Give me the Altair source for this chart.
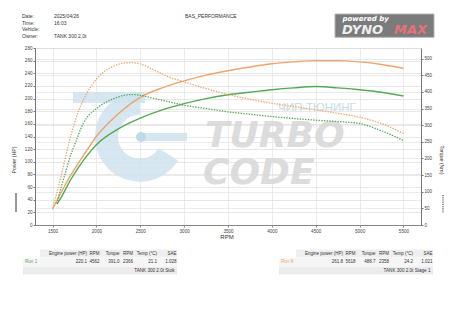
import altair as alt
import pandas as pd

# ---------------- data ----------------
run1_power_rpm = [1550, 1600, 1700, 1800, 1900, 2000, 2250, 2500, 2750, 3000, 3250, 3500,
                  3750, 4000, 4250, 4500, 4750, 5000, 5250, 5500]
run1_power_hp = [33, 44, 70, 92, 111, 127, 152, 169, 182, 192, 200, 206,
                 210, 214, 217, 219, 217, 214, 210, 204]

run8_power_rpm = [1500, 1600, 1700, 1800, 1900, 2000, 2250, 2500, 2750, 3000, 3250, 3500,
                  3750, 4000, 4250, 4500, 4750, 5000, 5250, 5500]
run8_power_hp = [25, 52, 77, 99, 120, 140, 176, 202, 217, 228, 237, 244,
                 250, 255, 258, 260, 260, 258, 254, 248]

run1_torque_rpm = [1550, 1600, 1650, 1700, 1750, 1850, 2000, 2100, 2200, 2300, 2400, 2500,
                   2600, 2800, 3000, 3250, 3500, 3750, 4000, 4250, 4500, 4750, 5000, 5250, 5500]
run1_torque_nm = [64, 115, 160, 205, 240, 305, 350, 368, 380, 389, 392, 390,
                  384, 372, 360, 350, 340, 333, 326, 320, 315, 311, 305, 283, 254]

run8_torque_rpm = [1500, 1600, 1700, 1800, 1900, 2000, 2100, 2200, 2300, 2400, 2500, 2600,
                   2700, 2800, 3000, 3250, 3500, 3750, 4000, 4250, 4500, 4750, 5000, 5250, 5500]
run8_torque_nm = [49, 150, 260, 345, 400, 438, 463, 478, 486, 488, 484, 473,
                  460, 448, 430, 410, 392, 378, 366, 356, 346, 336, 324, 305, 275]

run_names = ["Run 1", "Run 8"]
run_colors = ["#55a855", "#eea56c"]

rpm_ticks = [1500, 2000, 2500, 3000, 3500, 4000, 4500, 5000, 5500]
hp_ticks = list(range(0, 281, 20))
nm_ticks = list(range(0, 501, 50))

header_labels = ["Date:", "Time:", "Vehicle:", "Owner:"]
header_values = ["2025/04/26", "16:03", "", "TANK 300 2.0t"]
report_title = "BAS_PERFORMANCE"

table_headers = ["Engine power (HP)", "RPM", "Torque", "RPM", "Temp (°C)", "SAE"]
run1_stats = ["220.1", "4562", "391.0", "2366", "21.1", "1.028"]
run8_stats = ["261.8", "5618", "488.7", "2358", "24.2", "1.021"]
run1_note = "TANK 300 2.0t Stok"
run8_note = "TANK 300 2.0t Stage 1"

# ---------------- frames ----------------
power_df = pd.DataFrame({
    "rpm": run1_power_rpm + run8_power_rpm,
    "hp": run1_power_hp + run8_power_hp,
    "run": ["Run 1"] * len(run1_power_rpm) + ["Run 8"] * len(run8_power_rpm),
})
torque_df = pd.DataFrame({
    "rpm": run1_torque_rpm + run8_torque_rpm,
    "nm": run1_torque_nm + run8_torque_nm,
    "run": ["Run 1"] * len(run1_torque_rpm) + ["Run 8"] * len(run8_torque_rpm),
})

W, H = 386, 177
FONT = "Liberation Sans"

xenc = alt.X("rpm:Q", scale=alt.Scale(domain=[1300, 5700], nice=False, zero=False),
             axis=alt.Axis(values=rpm_ticks, format="d", title=None, grid=True,
                           gridColor="#e4e4e4", gridWidth=0.7, labelFontSize=4.6,
                           labelColor="#444", tickSize=2, tickColor="#888",
                           domainColor="#888", labelPadding=1.5))
cenc = alt.Color("run:N", scale=alt.Scale(domain=run_names, range=run_colors), legend=None)

power = alt.Chart(power_df).mark_line(strokeWidth=1.4, interpolate="monotone").encode(
    x=xenc,
    y=alt.Y("hp:Q", scale=alt.Scale(domain=[0, 280], nice=False),
            axis=alt.Axis(orient="left", values=hp_ticks, title=None, grid=True,
                          gridColor="#dedede", gridWidth=0.7, labelFontSize=4.6,
                          labelColor="#444", tickSize=2, tickColor="#777",
                          domainColor="#777", labelPadding=1)),
    color=cenc,
)
torque = alt.Chart(torque_df).mark_line(strokeWidth=1.3, strokeDash=[1.4, 1.3],
                                        interpolate="monotone").encode(
    x=alt.X("rpm:Q"),
    y=alt.Y("nm:Q", scale=alt.Scale(domain=[0, 532], nice=False),
            axis=alt.Axis(orient="right", values=nm_ticks, title=None, grid=True,
                          gridColor="#e2e2e2", gridWidth=0.7, labelFontSize=4.6,
                          labelColor="#444", tickSize=2, tickColor="#777",
                          domainColor="#777", labelPadding=1)),
    color=cenc,
)


def one():
    return pd.DataFrame({"t": ["x"]})


def txt(s, px, py, size=5, color="#333", align="left", baseline="middle",
        angle=0, font=FONT, weight="normal", style="normal", opacity=1.0):
    return alt.Chart(pd.DataFrame({"t": [s]})).mark_text(
        align=align, baseline=baseline, fontSize=size, color=color, angle=angle,
        font=font, fontWeight=weight, fontStyle=style, opacity=opacity,
    ).encode(x=alt.value(px), y=alt.value(py), text="t:N")


def rect(x1, x2, y1, y2, color, opacity=1.0, stroke=None):
    kw = dict(color=color, opacity=opacity)
    if stroke:
        kw["stroke"] = stroke
        kw["strokeWidth"] = 1
    return alt.Chart(one()).mark_rect(**kw).encode(
        x=alt.value(x1), x2=alt.value(x2), y=alt.value(y1), y2=alt.value(y2))


layers = []

# ---- watermark ----
wm_blue = "#cfe3ee"
layers.append(alt.Chart(one()).mark_arc(radius=45, radius2=22, theta=2.13, theta2=6.283,
                                        color=wm_blue, opacity=0.85).encode(
    x=alt.value(105), y=alt.value(88.7)))
layers.append(rect(38, 110, 44, 55, wm_blue, 0.85))
layers.append(rect(108, 152, 85, 93, wm_blue, 0.85))
layers.append(alt.Chart(one()).mark_arc(radius=5, radius2=0, theta=0, theta2=6.283,
                                        color="#b9d6e6", opacity=0.9).encode(
    x=alt.value(106), y=alt.value(89)))
layers.append(txt("TURBO", 170, 99, size=36, color="#d9d9d9", baseline="alphabetic",
                  font="DejaVu Sans", weight="bold", style="italic", opacity=0.9))
layers.append(txt("CODE", 168, 136, size=36, color="#d9d9d9", baseline="alphabetic",
                  font="DejaVu Sans", weight="bold", style="italic", opacity=0.9))
layers.append(txt("ЧИП-ТЮНИНГ", 243, 59.5, size=11.5, color="#c3d9e5", opacity=0.9))

layers.append(power)
layers.append(torque)

# ---- header ----
for i, (lab, val) in enumerate(zip(header_labels, header_values)):
    yy = -32.3 + i * 6.8
    layers.append(txt(lab, -13, yy, size=5))
    if val:
        layers.append(txt(val, 19, yy, size=5))
layers.append(txt(report_title, 150, -32.3, size=5))

# ---- DYNOMAX logo ----
layers.append(rect(300, 399, -34, -10.7, "#7b7b7b", 1.0, stroke="#b5b5b5"))
layers.append(txt("powered by", 307.5, -29.3, size=7, color="#ffffff",
                  font="DejaVu Sans", weight="bold", style="italic"))
layers.append(txt("DYNO", 307, -17.6, size=13, color="#eeeeee",
                  font="DejaVu Sans", weight="bold", style="italic"))
layers.append(txt("MAX", 359, -17.6, size=13, color="#e8707c",
                  font="DejaVu Sans", weight="bold", style="italic"))

# ---- axis titles & line-style keys ----
layers.append(txt("Power (HP)", -21, 112, size=5.2, align="center", angle=270))
layers.append(txt("Torque (Nm)", 407, 112, size=5.2, align="center", angle=90))
layers.append(txt("RPM", 192, 188.5, size=6, align="center"))
layers.append(alt.Chart(one()).mark_rule(color="#333", strokeWidth=1).encode(
    x=alt.value(-19), y=alt.value(145), y2=alt.value(164)))
layers.append(alt.Chart(one()).mark_rule(color="#333", strokeWidth=1,
                                         strokeDash=[1.2, 1]).encode(
    x=alt.value(408), y=alt.value(147), y2=alt.value(165)))

# ---- tables ----
col_right = [52, 64.5, 84.5, 98, 122, 141.5]
for off, name, color, stats, note in [(0, "Run 1", run_colors[0], run1_stats, run1_note),
                                      (256, "Run 8", run_colors[1], run8_stats, run8_note)]:
    layers.append(rect(5 + off, 142 + off, 201.5, 209.5, "#efefef"))
    layers.append(rect(-12 + off, 142 + off, 210, 218, "#f6f6f6"))
    layers.append(rect(-12 + off, 142 + off, 218.5, 226.5, "#ececec"))
    for cx, h in zip(col_right, table_headers):
        layers.append(txt(h, cx + off, 205.5, size=4.5, align="right"))
    for cx, v in zip(col_right, stats):
        layers.append(txt(v, cx + off, 214, size=4.5, align="right"))
    layers.append(txt(name, -10 + off, 214, size=4.6, color=color))
    layers.append(txt(note, 139.5 + off, 222.5, size=4.6, align="right"))

chart = alt.layer(*layers).resolve_scale(y="independent", color="shared").properties(
    width=W, height=H,
    autosize=alt.AutoSizeParams(type="none"),
    padding={"left": 35, "top": 48, "right": 40, "bottom": 100},
    background="white",
).configure_view(stroke="#b0b0b0", strokeWidth=0.8).configure(font=FONT)

chart.save("out.html", embed_options={"renderer": "svg", "actions": False})
